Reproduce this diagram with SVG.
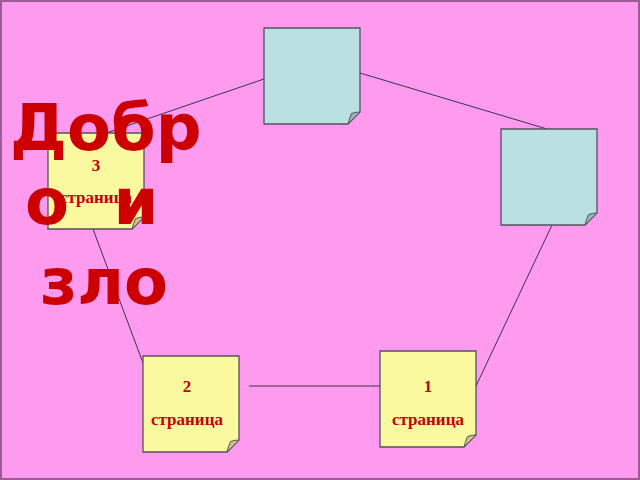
<svg xmlns="http://www.w3.org/2000/svg" width="640" height="480" viewBox="0 0 640 480">
  <style>
    .conn { stroke: #3d3050; stroke-width: 1; fill: none; }
    .box { stroke: #555060; stroke-width: 1.3; }
    .teal { fill: #bbe0e3; }
    .teal-fold { fill: #95b4b6; stroke: #555060; stroke-width: 1; }
    .yellow { fill: #fbf9a0; }
    .yellow-fold { fill: #c9c57c; stroke: #555060; stroke-width: 1; }
    .lbl { font-family: "Liberation Serif", "Times New Roman", serif; font-weight: bold; font-size: 17px; fill: #c40000; text-anchor: middle; }
    .big { font-family: "DejaVu Sans", "Verdana", sans-serif; font-weight: bold; font-size: 64px; fill: #cc0000; white-space: pre; }
  </style>
  <rect x="1" y="1" width="638" height="478" fill="#fe9bef" stroke="#9a5b97" stroke-width="2"/>

  <g id="connectors">
    <line class="conn" x1="264" y1="79" x2="106" y2="133"/>
    <line class="conn" x1="360" y1="73" x2="547" y2="129"/>
    <line class="conn" x1="552" y1="225" x2="476" y2="386"/>
    <line class="conn" x1="249" y1="386" x2="380" y2="386"/>
    <line class="conn" x1="93" y1="229" x2="143" y2="363"/>
  </g>

  <g id="node-top">
    <path class="box teal" d="M264,28 H360 V112 L348,124 H264 Z"/>
    <path class="teal-fold" d="M360,112 Q356,112 351.5,113.5 Q349.5,118 348,124 Z"/>
  </g>

  <g id="node-right">
    <path class="box teal" d="M501,129 H597 V213 L585,225 H501 Z"/>
    <path class="teal-fold" d="M597,213 Q593,213 588.5,214.5 Q586.5,219 585,225 Z"/>
  </g>

  <g id="node-3">
    <path class="box yellow" d="M48,133 H144 V217 L132,229 H48 Z"/>
    <path class="yellow-fold" d="M144,217 Q140,217 135.5,218.5 Q133.5,223 132,229 Z"/>
    <text class="lbl" x="96" y="171">3</text>
    <text class="lbl" x="96" y="203">страница</text>
  </g>

  <g id="node-2">
    <path class="box yellow" d="M143,356 H239 V440 L227,452 H143 Z"/>
    <path class="yellow-fold" d="M239,440 Q235,440 230.5,441.5 Q228.5,446 227,452 Z"/>
    <text class="lbl" x="187" y="392">2</text>
    <text class="lbl" x="187" y="425">страница</text>
  </g>

  <g id="node-1">
    <path class="box yellow" d="M380,351 H476 V435 L464,447 H380 Z"/>
    <path class="yellow-fold" d="M476,435 Q472,435 467.5,436.5 Q465.5,441 464,447 Z"/>
    <text class="lbl" x="428" y="392">1</text>
    <text class="lbl" x="428" y="425">страница</text>
  </g>

  <g id="title">
    <text class="big" x="10" y="150">Добр</text>
    <text class="big" x="25" y="224" xml:space="preserve">о  и</text>
    <text class="big" x="40" y="304">зло</text>
  </g>
</svg>
